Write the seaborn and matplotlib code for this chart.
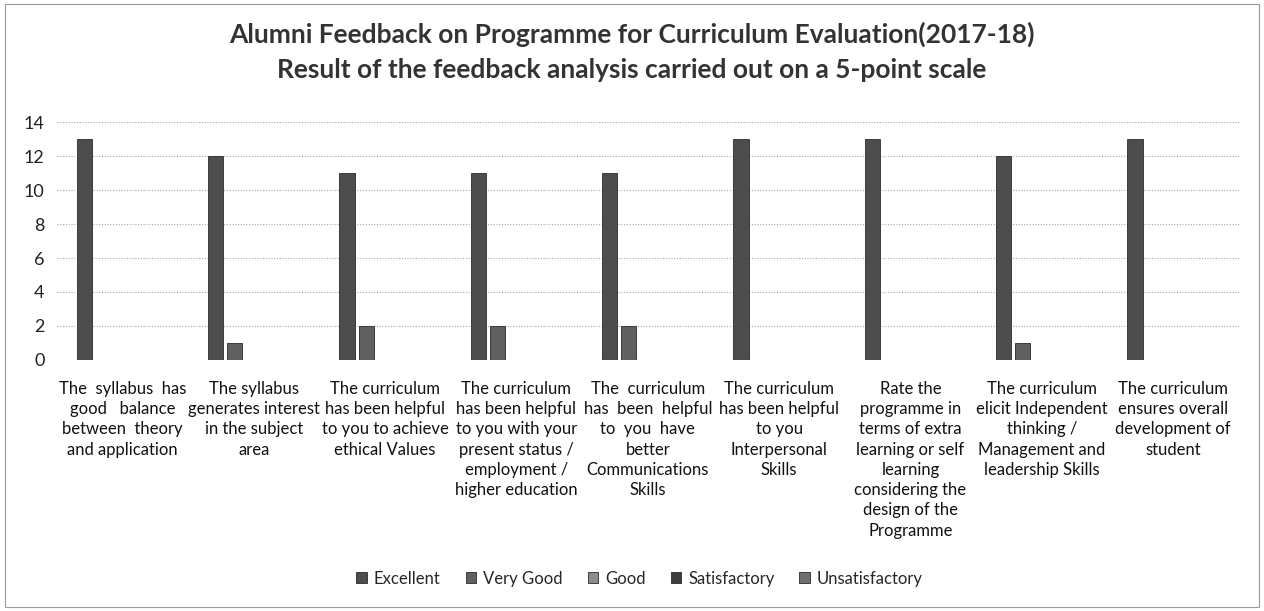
import matplotlib
matplotlib.use("Agg")
import matplotlib.pyplot as plt
import matplotlib.patches as mpatches
import numpy as np
import pandas as pd
import seaborn as sns

# feedback categories (x axis), wrapped as in the original chart
categories = [
    "The  syllabus  has\ngood   balance\nbetween  theory\nand application",
    "The syllabus\ngenerates interest\nin the subject\narea",
    "The curriculum\nhas been helpful\nto you to achieve\nethical Values",
    "The curriculum\nhas been helpful\nto you with your\npresent status /\nemployment /\nhigher education",
    "The  curriculum\nhas  been  helpful\nto  you  have\nbetter\nCommunications\nSkills",
    "The curriculum\nhas been helpful\nto you\nInterpersonal\nSkills",
    "Rate the\nprogramme in\nterms of extra\nlearning or self\nlearning\nconsidering the\ndesign of the\nProgramme",
    "The curriculum\nelicit Independent\nthinking /\nManagement and\nleadership Skills",
    "The curriculum\nensures overall\ndevelopment of\nstudent",
]

series = ["Excellent", "Very Good", "Good", "Satisfactory", "Unsatisfactory"]

excellent = [13, 12, 11, 11, 11, 13, 13, 12, 13]
very_good = [0, 1, 2, 2, 2, 0, 0, 1, 0]
good = [0, 0, 0, 0, 0, 0, 0, 0, 0]
satisfactory = [0, 0, 0, 0, 0, 0, 0, 0, 0]
unsatisfactory = [0, 0, 0, 0, 0, 0, 0, 0, 0]

colors = ["#4d4d4d", "#606060", "#8c8c8c", "#3c3c3c", "#707070"]

rows = []
for name, vals in zip(series, [excellent, very_good, good, satisfactory, unsatisfactory]):
    for cat, v in zip(categories, vals):
        rows.append({"category": cat, "series": name, "value": v})
df = pd.DataFrame(rows)

sns.set_style("white")
plt.rcParams["font.family"] = ["Lato", "DejaVu Sans"]

fig = plt.figure(figsize=(12.64, 6.11), dpi=100)
ax = fig.add_axes([0.045, 0.411, 0.935, 0.389])

sns.barplot(data=df, x="category", y="value", hue="series", order=categories,
            hue_order=series, palette=colors, width=0.725, gap=0.2,
            edgecolor="#2a2a2a", linewidth=0.6, ax=ax)

ax.set_ylim(0, 14)
ax.set_xlim(-0.5, len(categories) - 0.5)
ax.set_yticks(np.arange(0, 15, 2))
ax.yaxis.grid(True, linestyle=(0, (1, 1.5)), color="#a8a8a8", linewidth=0.8)
ax.set_axisbelow(True)
for s in ax.spines.values():
    s.set_visible(False)
ax.set_xlabel("")
ax.set_ylabel("")
ax.tick_params(axis="y", labelsize=13, length=0, pad=9, colors="#222222")
ax.tick_params(axis="x", labelsize=12, length=0, pad=15, colors="#111111")
for lbl in ax.get_xticklabels():
    lbl.set_linespacing(1.33)
    lbl.set_verticalalignment("top")

ax.legend_.remove()
handles = [mpatches.Patch(facecolor=c, edgecolor="#2a2a2a", linewidth=0.6) for c in colors]
fig.legend(handles, series, loc="center", bbox_to_anchor=(0.506, 0.053), ncol=5,
           frameon=False, fontsize=12, handlelength=0.65, handleheight=0.65,
           handletextpad=0.4, columnspacing=1.5)

fig.text(0.5, 0.943, "Alumni Feedback on Programme for Curriculum Evaluation(2017-18)",
         ha="center", va="center", fontsize=19, fontweight="bold", color="#333333")
fig.text(0.5, 0.885, "Result of the feedback analysis carried out on a 5-point scale",
         ha="center", va="center", fontsize=19, fontweight="bold", color="#333333")

fig.patches.append(mpatches.Rectangle((0.004, 0.006), 0.992, 0.988, transform=fig.transFigure,
                                      fill=False, edgecolor="#9a9a9a", linewidth=0.8))

fig.savefig("out.png", dpi=100)
